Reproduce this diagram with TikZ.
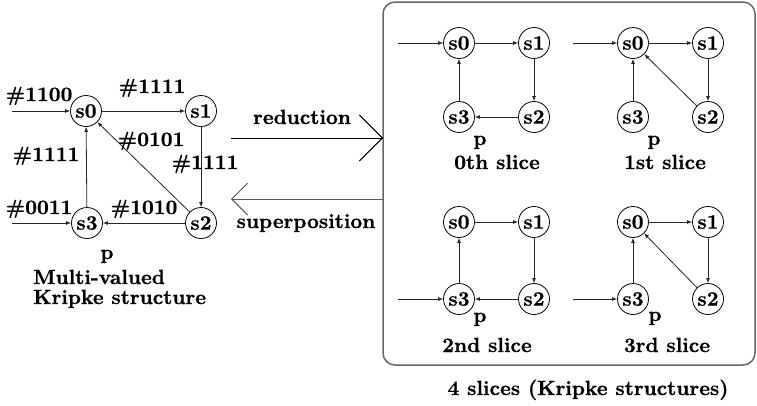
\documentclass[tikz,border=0pt]{standalone}
\usepackage{fontspec}
\newfontfamily\heavy{lmroman10-bold.otf}[FakeBold=0.8]
\usetikzlibrary{arrows.meta}
\begin{document}
\begin{tikzpicture}[x=1pt,y=-1pt,
  st/.style={circle,draw,line width=0.8pt,minimum size=31pt,inner sep=0pt,font=\fontsize{20.5}{24}\heavy},
  lbl/.style={font=\fontsize{20.5}{24}\heavy,inner sep=0pt,anchor=base},
  lblw/.style={lbl,anchor=base west},
  edge/.style={line width=0.8pt,draw=black!85,-{Latex[length=5pt,width=4pt]}},
  bigarrow/.style={line width=1pt,-{Straight Barb[length=#1,width=2*#1]}},
]
\useasboundingbox (0,0) rectangle (757,405);
% left multi-valued structure
\node[st] (s0) at (86,111) {s0};
\node[st] (s1) at (201,111) {s1};
\node[st] (s2) at (201,223) {s2};
\node[st] (s3) at (87,223) {s3};
\coordinate (in0) at (12,111);
\coordinate (in3) at (12,223);
\draw[edge] (in0) -- (s0);
\draw[edge] (in3) -- (s3);
\draw[edge] (s0) -- (s1);
\draw[edge] (s1) -- (s2);
\draw[edge] (s2) -- (s3);
\draw[edge] (s3) -- (s0);
\draw[edge] (s2) -- (s0);
\node[lbl] (l1) at (39,101) {\#1100};
\node[lbl] (l2) at (152,93) {\#1111};
\node[lbl] (l3) at (46,161) {\#1111};
\node[lbl] (l4) at (151,146) {\#0101};
\node[lbl] (l5) at (205,169) {\#1111};
\node[lbl] (l6) at (39,214) {\#0011};
\node[lbl] (l7) at (144,214) {\#1010};
\node[lbl] (p0) at (107,259) {p};
\node[lblw] (t1) at (33,284) {Multi-valued};
\node[lblw] (t2) at (33,304) {Kripke structure};
% box
\node[draw=black!60,line width=1.5pt,rounded corners=12pt,minimum width=372pt,minimum height=363pt,inner sep=0pt,outer sep=0pt] (box) at (569,183.5) {};
% middle arrows
\coordinate (redtail) at (231,138);
\coordinate (suptip) at (231,199);
\draw[bigarrow=23pt] (redtail) -- (redtail -| box.west);
\draw[bigarrow=16pt,draw=black!65] (box.west |- suptip) -- (suptip);
\node[lbl] (red) at (302,124) {reduction};
\node[lbl] (sup) at (306,228) {superposition};
% 0th slice
\node[st] (a0) at (459,43) {s0};
\node[st] (a1) at (534,43) {s1};
\node[st] (a2) at (534,117) {s2};
\node[st] (a3) at (459,117) {s3};
\coordinate (ain) at (398,43);
\draw[edge] (ain) -- (a0);
\draw[edge] (a0) -- (a1);
\draw[edge] (a1) -- (a2);
\draw[edge] (a2) -- (a3);
\draw[edge] (a3) -- (a0);
\node[lbl] (ap) at (480,145) {p};
\node[lbl] (at) at (497,169) {0th slice};
% 1st slice
\node[st] (b0) at (633,43) {s0};
\node[st] (b1) at (708,43) {s1};
\node[st] (b2) at (708,117) {s2};
\node[st] (b3) at (633,117) {s3};
\coordinate (bin) at (573,43);
\draw[edge] (bin) -- (b0);
\draw[edge] (b0) -- (b1);
\draw[edge] (b1) -- (b2);
\draw[edge] (b3) -- (b0);
\draw[edge] (b2) -- (b0);
\node[lbl] (bp) at (654,145) {p};
\node[lbl] (bt) at (665,169) {1st slice};
% 2nd slice
\node[st] (c0) at (459,222) {s0};
\node[st] (c1) at (534,222) {s1};
\node[st] (c2) at (534,299) {s2};
\node[st] (c3) at (459,299) {s3};
\coordinate (cin) at (398,299);
\draw[edge] (cin) -- (c3);
\draw[edge] (c0) -- (c1);
\draw[edge] (c1) -- (c2);
\draw[edge] (c2) -- (c3);
\draw[edge] (c3) -- (c0);
\node[lbl] (cp) at (480,322) {p};
\node[lbl] (ct) at (487,352) {2nd slice};
% 3rd slice
\node[st] (d0) at (633,222) {s0};
\node[st] (d1) at (708,222) {s1};
\node[st] (d2) at (708,299) {s2};
\node[st] (d3) at (633,299) {s3};
\coordinate (din) at (573,299);
\draw[edge] (din) -- (d3);
\draw[edge] (d0) -- (d1);
\draw[edge] (d1) -- (d2);
\draw[edge] (d3) -- (d0);
\draw[edge] (d2) -- (d0);
\node[lbl] (dp) at (655,321) {p};
\node[lbl] (dt) at (667,352) {3rd slice};
% caption
\node[lbl] (cap) at (588,395) {4 slices (Kripke structures)};
\end{tikzpicture}
\end{document}
